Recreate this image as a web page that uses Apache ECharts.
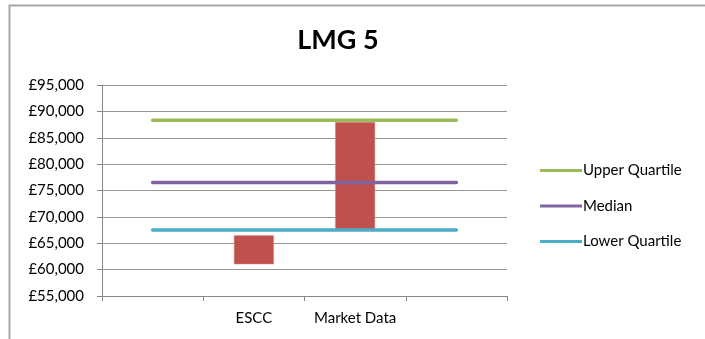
<!DOCTYPE html>
<html>
<head>
<meta charset="utf-8">
<script src="https://cdn.jsdelivr.net/npm/echarts@6/dist/echarts.min.js"></script>
<style>
    html, body { margin: 0; padding: 0; background: #fff; }
    #lmg { width: 705px; height: 339px; }
</style>
</head>
<body>
<div id="lmg"></div>
<script>
// categories (first and last are empty slots in the original)
let categories = ["", "ESCC", "Market Data", ""];
// floating bars: low and high per category
let barLow = [null, 61000, 67600, null];
let barHigh = [null, 66500, 88000, null];
// reference lines
let upperQuartile = [88300, 88300, 88300, 88300];
let median = [76500, 76500, 76500, 76500];
let lowerQuartile = [67500, 67500, 67500, 67500];

let barSpan = barHigh.map(function (h, i) {
    return h == null ? null : h - barLow[i];
});

var chartDom = document.getElementById("lmg");
var myChart = echarts.init(chartDom);
var font = "Lato, 'Open Sans', sans-serif";

function lineSeries(name, color, data) {
    return {
        name: name,
        type: "line",
        data: data,
        symbol: "none",
        z: 5,
        lineStyle: { color: color, width: 3.5, cap: "round" },
        itemStyle: { color: color },
    };
}

var option = {
    animation: false,
    textStyle: { fontFamily: font },
    title: {
        text: "LMG 5",
        left: 333,
        top: 22,
        textAlign: "center",
        textStyle: { fontSize: 27, fontWeight: "bold", color: "#000", fontFamily: font },
    },
    graphic: [
        {
            type: "rect",
            shape: { x: 9.5, y: 5.5, width: 800, height: 400 },
            style: { fill: "none", stroke: "#a6a6a6", lineWidth: 2 },
            silent: true,
        },
    ],
    legend: {
        orient: "vertical",
        left: 535,
        top: 158,
        itemWidth: 42,
        itemHeight: 14,
        itemGap: 20.5,
        icon: "path://M0,5.5 L42,5.5 L42,8.5 L0,8.5 Z",
        data: ["Upper Quartile", "Median", "Lower Quartile"],
        textStyle: { fontSize: 15, color: "#000", padding: [0, 0, 0, -4], fontFamily: font },
    },
    grid: { left: 102, right: 198, top: 85, bottom: 43 },
    xAxis: {
        type: "category",
        data: categories,
        boundaryGap: true,
        axisLine: { lineStyle: { color: "#868686", width: 1 } },
        axisTick: { show: true, interval: 0, length: 5, lineStyle: { color: "#868686" } },
        axisLabel: { interval: 0, color: "#000", fontSize: 15, margin: 15, fontFamily: font },
    },
    yAxis: {
        type: "value",
        min: 55000,
        max: 95000,
        interval: 5000,
        axisLine: { show: true, lineStyle: { color: "#868686" } },
        axisTick: { show: true, length: 5, lineStyle: { color: "#868686" } },
        splitLine: { lineStyle: { color: "#969696", width: 1 } },
        axisLabel: {
            color: "#000",
            fontSize: 15,
            margin: 18,
            fontFamily: font,
            formatter: function (v) {
                return "£" + v.toLocaleString("en-GB");
            },
        },
    },
    series: [
        {
            name: "base",
            type: "bar",
            stack: "range",
            data: barLow,
            barWidth: 40,
            itemStyle: { color: "transparent" },
            silent: true,
        },
        {
            name: "range",
            type: "bar",
            stack: "range",
            data: barSpan,
            barWidth: 40,
            itemStyle: { color: "#c0504d", borderColor: "#d99694", borderWidth: 0.5 },
        },
        lineSeries("Upper Quartile", "#9bbb59", upperQuartile),
        lineSeries("Median", "#8064a2", median),
        lineSeries("Lower Quartile", "#4bacc6", lowerQuartile),
    ],
};

option && myChart.setOption(option);
</script>
</body>
</html>
